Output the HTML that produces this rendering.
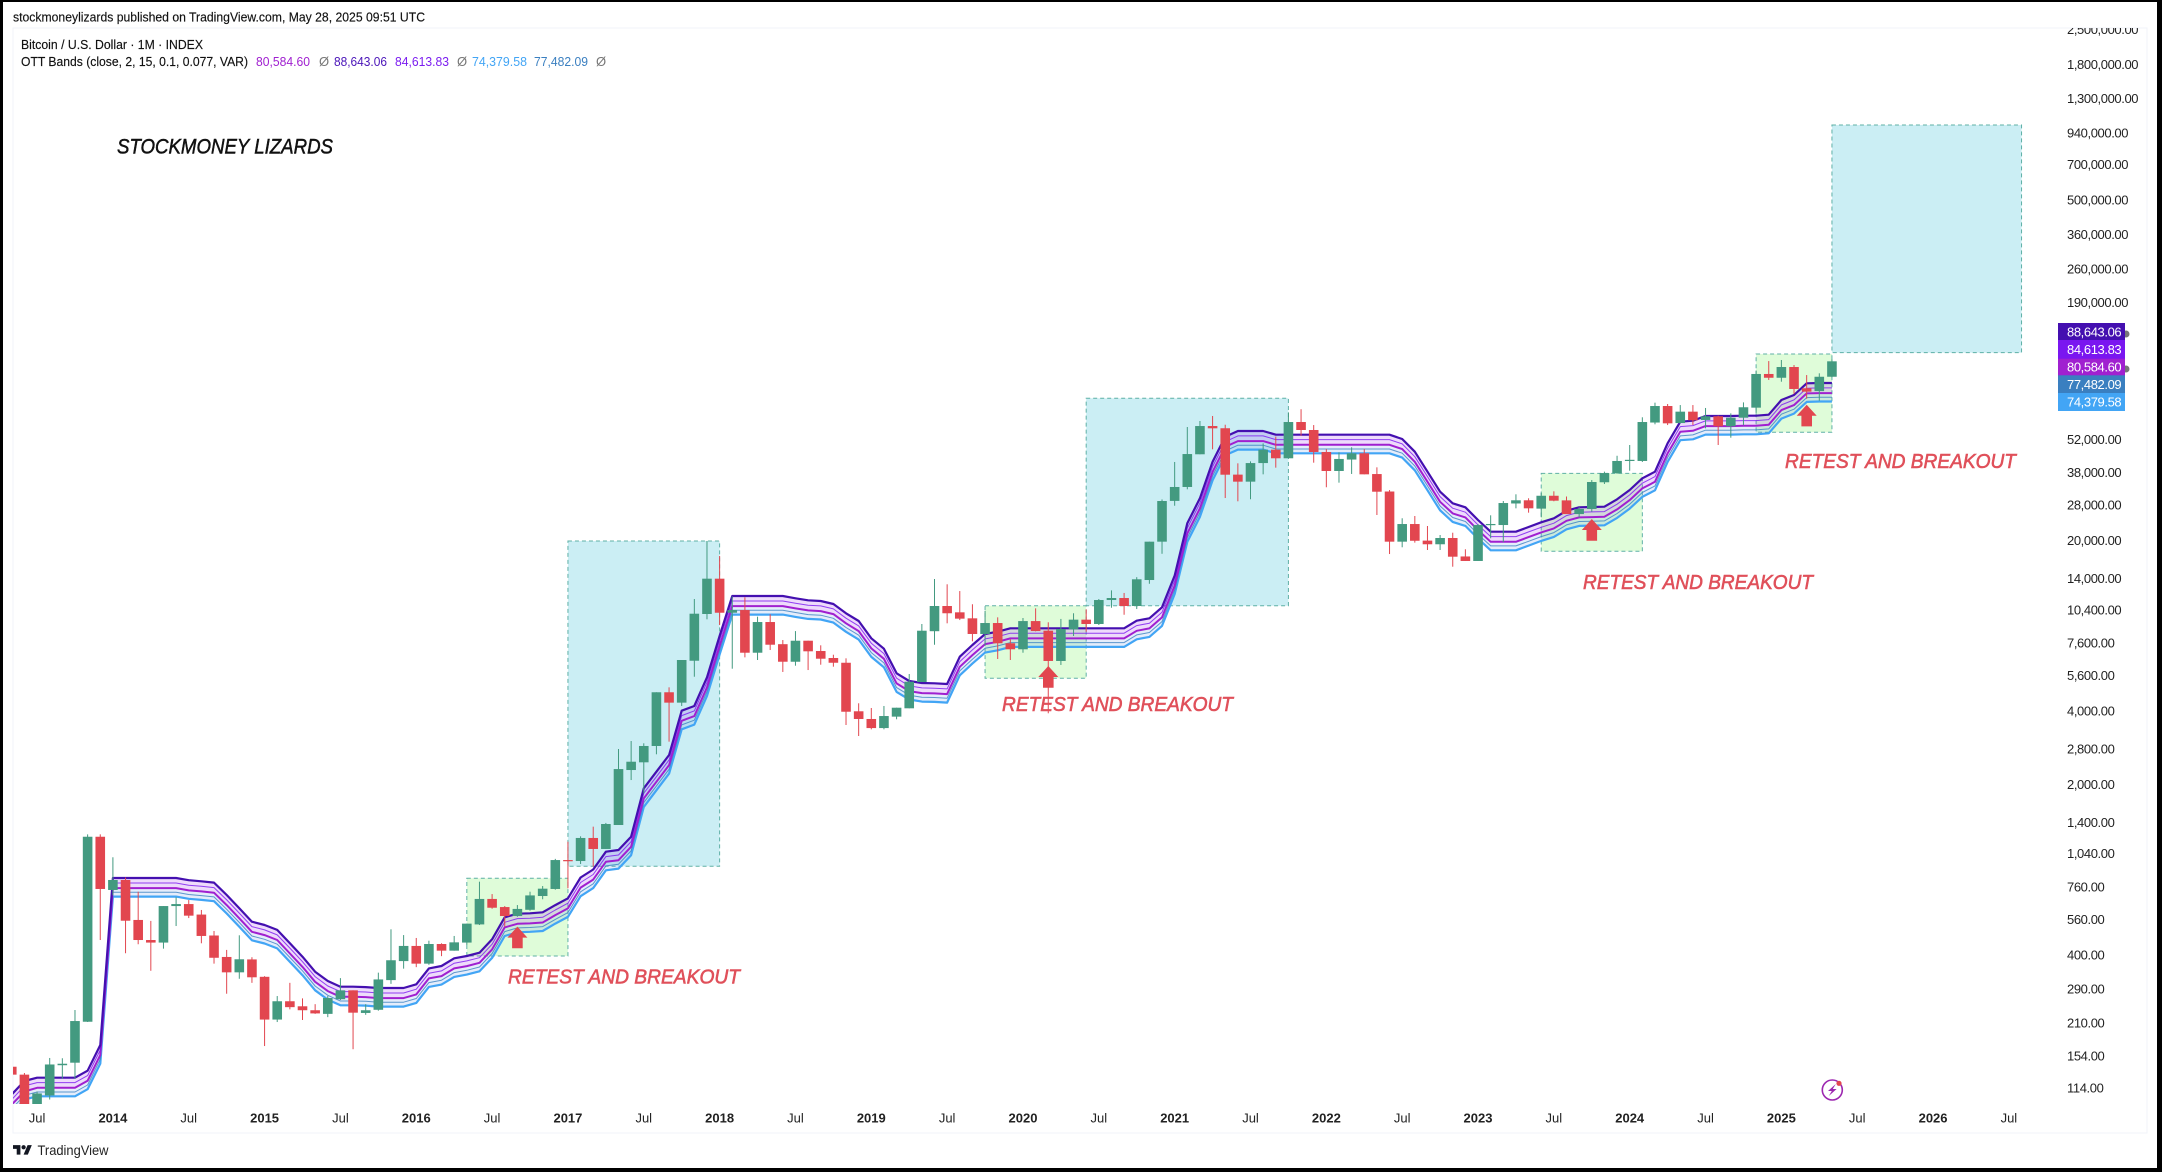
<!DOCTYPE html>
<html lang="en">
<head>
<meta charset="utf-8">
<title>Bitcoin monthly chart with OTT Bands</title>
<style>
html,body{margin:0;padding:0;background:#000;}
body{width:2162px;height:1172px;overflow:hidden;}
svg{display:block;font-family:"Liberation Sans",sans-serif;filter:blur(0.35px);}
</style>
</head>
<body>
<svg id="chart" xmlns="http://www.w3.org/2000/svg" width="2162" height="1172" viewBox="0 0 2162 1172">
  <defs>
    <clipPath id="pane-clip"><rect x="13" y="28" width="2040" height="1076"/></clipPath>
    <clipPath id="axis-clip"><rect x="2050" y="28" width="97" height="1076"/></clipPath>
  </defs>
  <rect x="0" y="0" width="2162" height="1172" fill="#000000"/>
  <rect x="3" y="2" width="2154" height="1166" fill="#ffffff"/>
  <rect x="13" y="28" width="2134" height="1105" fill="#ffffff" stroke="#f0f3fa" stroke-width="1"/>

  <text x="13" y="21.5" font-size="13" fill="#111" stroke="#111" stroke-width="0.15" textLength="412" lengthAdjust="spacingAndGlyphs">stockmoneylizards published on TradingView.com, May 28, 2025 09:51 UTC</text>

  <g id="pane" clip-path="url(#pane-clip)">
    <g id="boxes"></g>
    <g id="bands"></g>
    <g id="candles"></g>
    <g id="arrows"></g>
  </g>

  <text x="21" y="49" font-size="13" fill="#111" stroke="#111" stroke-width="0.15" textLength="182" lengthAdjust="spacingAndGlyphs">Bitcoin / U.S. Dollar · 1M · INDEX</text>
  <g font-size="13">
    <text x="21" y="66" fill="#111" stroke="#111" stroke-width="0.15" textLength="227" lengthAdjust="spacingAndGlyphs">OTT Bands (close, 2, 15, 0.1, 0.077, VAR)</text>
    <text x="256" y="66" fill="#a020d0" textLength="54" lengthAdjust="spacingAndGlyphs">80,584.60</text>
    <text x="319" y="66" fill="#777">Ø</text>
    <text x="334" y="66" fill="#4a14b8" textLength="53" lengthAdjust="spacingAndGlyphs">88,643.06</text>
    <text x="395" y="66" fill="#7b1cf0" textLength="54" lengthAdjust="spacingAndGlyphs">84,613.83</text>
    <text x="457" y="66" fill="#777">Ø</text>
    <text x="472" y="66" fill="#42a5f5" textLength="55" lengthAdjust="spacingAndGlyphs">74,379.58</text>
    <text x="534" y="66" fill="#3a7fc0" textLength="54" lengthAdjust="spacingAndGlyphs">77,482.09</text>
    <text x="596" y="66" fill="#777">Ø</text>
  </g>

  <text x="117" y="153.5" font-size="21" font-style="italic" fill="#111" stroke="#111" stroke-width="0.5" textLength="216" lengthAdjust="spacingAndGlyphs">STOCKMONEY LIZARDS</text>

  <g font-size="20.5" font-style="italic" fill="#e0505a" stroke="#e0505a" stroke-width="0.6">
    <text x="508" y="983.5" textLength="232" lengthAdjust="spacingAndGlyphs">RETEST AND BREAKOUT</text>
    <text x="1002" y="711" textLength="231" lengthAdjust="spacingAndGlyphs">RETEST AND BREAKOUT</text>
    <text x="1583" y="589" textLength="230" lengthAdjust="spacingAndGlyphs">RETEST AND BREAKOUT</text>
    <text x="1785" y="468" textLength="231" lengthAdjust="spacingAndGlyphs">RETEST AND BREAKOUT</text>
  </g>

  <g id="price-axis" clip-path="url(#axis-clip)" font-size="13" fill="#222"></g>
  <g id="time-axis" font-size="13" fill="#222"></g>

  <g font-size="13" fill="#fff" letter-spacing="-0.4">
    <circle cx="2126" cy="334" r="3.5" fill="#777"/>
    <circle cx="2126" cy="369" r="3.5" fill="#777"/>
    <rect x="2058" y="323" width="67" height="17.5" fill="#440fb0"/>
    <text x="2067" y="336.3">88,643.06</text>
    <rect x="2058" y="340" width="67" height="19" fill="#7a16f0"/>
    <text x="2067" y="353.8">84,613.83</text>
    <rect x="2058" y="358.7" width="67" height="17" fill="#a020d0"/>
    <text x="2067" y="371.5">80,584.60</text>
    <rect x="2058" y="375.3" width="67" height="18" fill="#3a7fc0"/>
    <text x="2067" y="388.8">77,482.09</text>
    <rect x="2058" y="393" width="67" height="18" fill="#42a5f5"/>
    <text x="2067" y="406.5">74,379.58</text>
  </g>

  <g>
    <circle cx="1832.3" cy="1090" r="10" fill="#fff" stroke="#9c27b0" stroke-width="1.6"/>
    <polygon points="1835.8,1084 1828,1091 1831.8,1091 1828.8,1096 1836.6,1089 1832.8,1089" fill="#9c27b0"/>
    <circle cx="1839" cy="1083.3" r="2.6" fill="#e2464f"/>
  </g>

  <g>
    <g transform="translate(13,1143) scale(0.53)" fill="#131722">
      <path d="M14 22H7V11H0V4h14v18zM28 22h-8l7.5-18h8L28 22z"/>
      <circle cx="20" cy="8" r="4"/>
    </g>
    <text x="37.5" y="1155" font-size="14" fill="#222" textLength="71" lengthAdjust="spacingAndGlyphs">TradingView</text>
  </g>
</svg>
<script>
// First candle is May 2013; month index 0 is January 2014.
const firstMonthIndex = -8;

const openPrices = [
  139,129,97,106,141,144.4,212.6,1220,
  738,811,556,460,449,634,646,585,480,392,339,383,
  325,217,258,246,237,229,263,286,231,238,315,377,
  435,368,443,416,449,533,678,628,577,612,697,745,
  979,970,1206,1087,1363,2291,2464,2875,4775,4329,6431,10000,
  13960,10120,10380,6937,9270,7520,6371,7770,7050,6600,6310,3990,
  3710,3405,3793,4104,5260,8500,10784,10160,9600,8280,9183,7585,
  7165,9354,8540,6417,8650,9480,9100,11412,11630,10785,13785,19800,
  29100,33190,45200,59020,57800,37300,34900,41600,47200,43520,61300,56850,
  46190,38600,43000,45620,37500,31800,19800,23390,20000,19320,20500,17220,
  16500,23170,23170,28400,29270,27050,30550,29250,25700,26960,34700,37800,
  42700,42430,61000,71300,60700,67600,62500,64700,58880,63850,70200,96500,
  93110,103060,84300,82100,94000
];
const highPrices = [
  141,131,110,151,150.6,237.5,1248,1248,
  1005,830,726,551,634,689,671,611,501,419,481,391,
  327,271,307,265,251,271,321,286,251,338,509,482,
  469,457,446,478,537,798,710,634,640,726,766,990,
  1164,1225,1342,1390,2793,3013,2949,4775,5003,6476,11520,19925,
  17300,11800,11710,9750,9970,7820,8510,7770,7440,6808,6580,4303,
  4116,4195,4127,5675,9100,13917,13240,12420,10965,10300,9690,7873,
  9630,10550,9247,9546,10070,10450,11520,12500,12200,14160,19800,29500,
  42030,58480,61900,64900,59760,41500,42260,50100,53400,67150,69180,59570,
  47390,46050,48300,47400,39960,32240,24700,25230,22960,21090,21550,18430,
  23400,25400,29070,30970,29830,31400,31860,30350,27400,35440,38360,44570,
  49340,64100,73600,72680,71950,71950,70000,65100,66530,73800,99700,109000,
  110100,105000,95500,97100,111000
];
const lowPrices = [
  128,95,95,102,124,124,212,460,
  702,406,442,344,424,525,566,446,368,277,319,307,
  169,212,239,216,229,222,261,164,227,236,304,351,
  356,364,395,416,439,530,618,522,573,607,676,740,
  750,943,920,1087,1363,2084,1839,2658,2995,4195,5530,9510,
  9010,5965,6640,6476,7116,5785,6137,5890,6195,6080,3505,3159,
  3365,3365,3700,4104,5260,7482,9158,9445,7727,7400,6538,6476,
  6937,8490,3915,6180,8125,8460,9012,10610,9930,10480,13305,17660,
  27800,32470,45200,47380,29900,28990,29550,37400,39830,43520,53830,41750,
  33100,34570,37530,37400,25470,17620,18780,19620,18300,18300,15630,16500,
  16500,20450,19740,27130,26040,24930,29000,25700,24900,26300,34140,37600,
  38700,42030,59980,59570,60500,59570,57760,49340,52860,59570,66800,91200,
  89700,80000,76400,75000,93500
];
const closePrices = [
  129,97,108,142,143,214,1220,745,
  811,552,460,449,634,646,579,478,389,339,383.5,323.5,
  217,258,244,237,230,266,286,231.6,237,317,380,435,
  368,443,416,450,537,678,624,577,617,701,747,979,
  970,1206,1087,1376,2312,2478,2875,4775,4329,6476,10028,13960,
  10120,10380,6937,9270,7482,6371,7770,7030,6555,6310,3973,3710,
  3405,3815,4127,5276,8540,10784,10070,9570,8280,9183,7585,7165,
  9354,8515,6417,8680,9480,9100,11412,11630,10785,13880,19800,29070,
  33190,45300,59020,57760,37270,34900,41600,47200,43520,61300,56850,46190,
  38600,43250,45620,37400,31740,19800,23390,19970,19320,20500,17180,16500,
  23170,23400,28520,29270,27130,30550,29160,25700,26960,34790,37860,42430,
  42900,61300,71300,60540,67600,62300,64700,58880,63850,70470,96500,93110,
  103060,83750,81650,94000,108750
];

const bandUpper = [
  107,121.5,125.3,125.3,125.3,125.3,133.9,170.7,
  826,826,826,826,826,826,809,801,791,704,621,547,
  530,506,446,393,341,312.4,296,296,295,292.4,292.4,292.4,
  302.8,352,360,387,395.5,408,463,570,590,592,597.5,640,
  682,830,895,1059,1076,1221,1928,2255,2640,4013,4195,5501,
  8124,11850,11850,11850,11850,11850,11600,11380,11310,10990,10070,9361,
  7949,7206,5711,5313,5212,5197,5163,6682,7462,8279,8461,8736,
  8736,8736,8736,8736,8736,8736,8736,8736,8736,9387,9603,10650,
  14390,23550,29830,42140,53350,56320,56320,56320,54370,54370,54370,54370,
  54370,54370,54370,54370,54370,54370,52220,46300,38350,31740,28450,27400,
  24300,21760,21760,21760,22740,23770,24690,26530,27400,27470,27550,29550,
  32250,36030,38350,50140,61500,62080,64900,64900,64900,65080,65080,65690,
  75480,79120,88360,88640,88640
];
const bandUpperInner = [
  102,116,119.6,119.6,119.6,119.6,127.8,162.9,
  788,788,788,788,788,788,772,765,755,672,593,522,
  506,483,426,375,325.5,298,282.5,282.5,281.6,279,279,279,
  289,336,343.6,369.4,377.5,389.4,442,544,563,565,570,611,
  651,792,854,1011,1027,1165,1840,2152,2520,3831,4004,5251,
  7755,11311,11311,11311,11311,11311,11073,10863,10796,10490,9612,8935,
  7588,6878,5451,5071,4975,4961,4928,6378,7123,7902,8076,8339,
  8339,8339,8339,8339,8339,8339,8339,8339,8339,8960,9166,10166,
  13736,22479,28474,40224,50925,53760,53760,53760,51898,51898,51898,51898,
  51898,51898,51898,51898,51898,51898,49846,44195,36606,30297,27156,26154,
  23195,20771,20771,20771,21706,22689,23567,25324,26154,26221,26297,28206,
  30783,34391,36606,47860,58703,59257,61949,61949,61949,62120,62120,62703,
  72048,75522,84343,84613,84613
];
const bandMiddle = [
  97.3,110,113.9,113.9,113.9,113.9,121.7,155.2,
  751,751,751,751,751,751,735,728,719,640,565,497,
  482,460,405,357,310,284,269,269,268.2,265.8,265.8,265.8,
  275.3,320,327.3,351.8,359.5,370.9,421,518,536,538,543,582,
  620,755,814,963,978,1110,1753,2050,2400,3648,3814,5001,
  7385,10773,10773,10773,10773,10773,10545,10345,10282,9991,9155,8510,
  7226,6551,5192,4830,4738,4725,4694,6075,6784,7526,7692,7942,
  7942,7942,7942,7942,7942,7942,7942,7942,7942,8534,8730,9682,
  13082,21409,27118,38309,48500,51200,51200,51200,49427,49427,49427,49427,
  49427,49427,49427,49427,49427,49427,47473,42091,34864,28855,25864,24909,
  22091,19782,19782,19782,20673,21609,22445,24118,24909,24973,25046,26864,
  29318,32755,34864,45582,55909,56436,59000,59000,59000,59164,59164,59718,
  68618,71927,80327,80585,80585
];
const bandLowerInner = [
  93.5,106,109.5,109.5,109.5,109.5,117,149.2,
  722,722,722,722,722,722,707,700,691,615,543,478,
  463,442,390,344,298,273,258.7,258.7,257.9,255.6,255.6,255.6,
  264.7,307.7,314.7,338.3,345.7,356.6,405,498,516,517.5,522,559,
  596,725,782,926,941,1067,1685,1971,2308,3508,3667,4808,
  7101,10358,10358,10358,10358,10358,10140,9947,9886,9606,8802,8182,
  6948,6299,4992,4644,4556,4543,4513,5841,6522,7237,7396,7636,
  7636,7636,7636,7636,7636,7636,7636,7636,7636,8205,8394,9309,
  12578,20585,26074,36835,46633,49230,49230,49230,47524,47524,47524,47524,
  47524,47524,47524,47524,47524,47524,45645,40470,33522,27744,24868,23950,
  21240,19020,19020,19020,19877,20777,21581,23190,23950,24011,24081,25829,
  28190,31494,33522,43827,53757,54263,56728,56728,56728,56886,56886,57419,
  65977,69158,77235,77482,77482
];
const bandLower = [
  89.8,102,105.1,105.1,105.1,105.1,112.4,143.2,
  693,693,693,693,693,693,679,672,664,591,521,459,
  445,425,374,330,286,262,248.4,248.4,247.5,245.3,245.3,245.3,
  254.1,295.4,302,324.7,331.9,342.3,388.5,478,495,497,501,537,
  572,696,751,889,903,1025,1618,1892,2215,3367,3520,4616,
  6817,9943,9943,9943,9943,9943,9733,9549,9490,9222,8450,7855,
  6670,6046,4792,4458,4373,4361,4332,5607,6261,6947,7100,7330,
  7330,7330,7330,7330,7330,7330,7330,7330,7330,7877,8058,8936,
  12075,19761,25030,35360,44765,47258,47258,47258,45621,45621,45621,45621,
  45621,45621,45621,45621,45621,45621,43817,38850,32179,26633,23872,22991,
  20390,18259,18259,18259,19081,19945,20717,22261,22991,23050,23117,24795,
  27061,30232,32179,42072,51604,52090,54457,54457,54457,54607,54607,55120,
  63334,66388,74142,74380,74380
];

const priceTicks = [2500000,1800000,1300000,940000,700000,500000,360000,260000,190000,52000,38000,28000,20000,14000,10400,7600,5600,4000,2800,2000,1400,1040,760,560,400,290,210,154,114];
const timeTickMonths = [-6,0,6,12,18,24,30,36,42,48,54,60,66,72,78,84,90,96,102,108,114,120,126,132,138,144,150];
const timeTickLabels = ['Jul','2014','Jul','2015','Jul','2016','Jul','2017','Jul','2018','Jul','2019','Jul','2020','Jul','2021','Jul','2022','Jul','2023','Jul','2024','Jul','2025','Jul','2026','Jul'];

const boxKinds = ['green','blue','green','blue','green','green','blue'];
const boxStartMonths = [28,36,69,77,113,130,136];
const boxEndMonths = [36,48,77,93,121,136,151];
const boxHighPrices = [824,19925,10814,76700,37760,116500,1013000];
const boxLowPrices = [395.5,923,5449,10814,18080,55630,118000];

const arrowMonths = [32,74,117,134];
const arrowTipPrices = [522,6118,24530,72200];

// Axis functions
function xOf(month){ return 112.9 + 12.64 * month; }
function yOf(price){ return 1101.6 - 243.8 * Math.log10(price / 100); }

const SVG_NS = 'http://www.w3.org/2000/svg';
function make(tag, attrs, parent){
  const node = document.createElementNS(SVG_NS, tag);
  for (const key in attrs) node.setAttribute(key, attrs[key]);
  parent.appendChild(node);
  return node;
}

// Annotation boxes
const boxLayer = document.getElementById('boxes');
boxKinds.forEach(function(kind, b){
  const x0 = xOf(boxStartMonths[b]), x1 = xOf(boxEndMonths[b]);
  const y0 = yOf(boxHighPrices[b]), y1 = yOf(boxLowPrices[b]);
  const el = make('rect', {x:x0, y:y0, width:x1-x0, height:y1-y0, fill: kind === 'blue' ? '#cbeef4' : '#dffcd9', stroke:'#5fb0a6', 'stroke-width':1, 'stroke-dasharray':'4 3'}, boxLayer);
  
  
});

// OTT bands
const bandLayer = document.getElementById('bands');
function bandPoints(series){
  return series.map(function(v, k){ return xOf(firstMonthIndex + k).toFixed(1) + ',' + yOf(v).toFixed(1); });
}
const upperFill = make('polygon', {points: bandPoints(bandUpper).concat(bandPoints(bandMiddle).reverse()).join(' '), fill:'#9c27e6', 'fill-opacity':0.17}, bandLayer);


const lowerFill = make('polygon', {points: bandPoints(bandMiddle).concat(bandPoints(bandLower).reverse()).join(' '), fill:'#5c8fe6', 'fill-opacity':0.16}, bandLayer);



const lineLower = make('polyline', {points: bandPoints(bandLower).join(' '), fill:'none', stroke:'#42a5f5', 'stroke-width':2.2, 'stroke-linejoin':'round'}, bandLayer);


const lineLowerInner = make('polyline', {points: bandPoints(bandLowerInner).join(' '), fill:'none', stroke:'#3a7fc0', 'stroke-width':1, 'stroke-opacity':0.8, 'stroke-linejoin':'round'}, bandLayer);


const lineMiddle = make('polyline', {points: bandPoints(bandMiddle).join(' '), fill:'none', stroke:'#a020d0', 'stroke-width':2, 'stroke-linejoin':'round'}, bandLayer);


const lineUpperInner = make('polyline', {points: bandPoints(bandUpperInner).join(' '), fill:'none', stroke:'#7a16f0', 'stroke-width':1, 'stroke-opacity':0.8, 'stroke-linejoin':'round'}, bandLayer);


const lineUpper = make('polyline', {points: bandPoints(bandUpper).join(' '), fill:'none', stroke:'#440fb0', 'stroke-width':2.2, 'stroke-linejoin':'round'}, bandLayer);



// Candles
const candleLayer = document.getElementById('candles');
openPrices.forEach(function(open, k){
  const close = closePrices[k];
  const x = xOf(firstMonthIndex + k);
  const up = close >= open;
  const color = up ? '#439a80' : '#e2464f';
  const wick = make('line', {x1:x, x2:x, y1:yOf(highPrices[k]), y2:yOf(lowPrices[k]), stroke:color, 'stroke-width':1}, candleLayer);
  
  
  const top = yOf(Math.max(open, close));
  const bottom = yOf(Math.min(open, close));
  const body = make('rect', {x:x-4.8, y:top, width:9.6, height:Math.max(bottom-top, 1.2), fill:color}, candleLayer);
  
  
});

// Arrows
const arrowLayer = document.getElementById('arrows');
arrowMonths.forEach(function(month, a){
  const x = xOf(month), y = yOf(arrowTipPrices[a]);
  const pts = [[0,0],[10,11],[5.3,11],[5.3,21.7],[-5.3,21.7],[-5.3,11],[-10,11]].map(function(p){ return (x+p[0]).toFixed(1) + ',' + (y+p[1]).toFixed(1); }).join(' ');
  const el = make('polygon', {points:pts, fill:'#e2464f'}, arrowLayer);
  
  
});

// Price axis
const priceAxis = document.getElementById('price-axis');
priceTicks.forEach(function(value){
  const el = make('text', {x:2067, y:yOf(value)+4.6, 'letter-spacing':'-0.4'}, priceAxis);
  el.textContent = value.toLocaleString('en-US', {minimumFractionDigits:2, maximumFractionDigits:2});
  
  
});

// Time axis
const timeAxis = document.getElementById('time-axis');
timeTickLabels.forEach(function(label, t){
  const isYear = label !== 'Jul';
  const el = make('text', {x:xOf(timeTickMonths[t]), y:1122.6, 'text-anchor':'middle', 'font-weight': isYear ? 'bold' : 'normal'}, timeAxis);
  el.textContent = label;
  
  
});
</script>
</body>
</html>
